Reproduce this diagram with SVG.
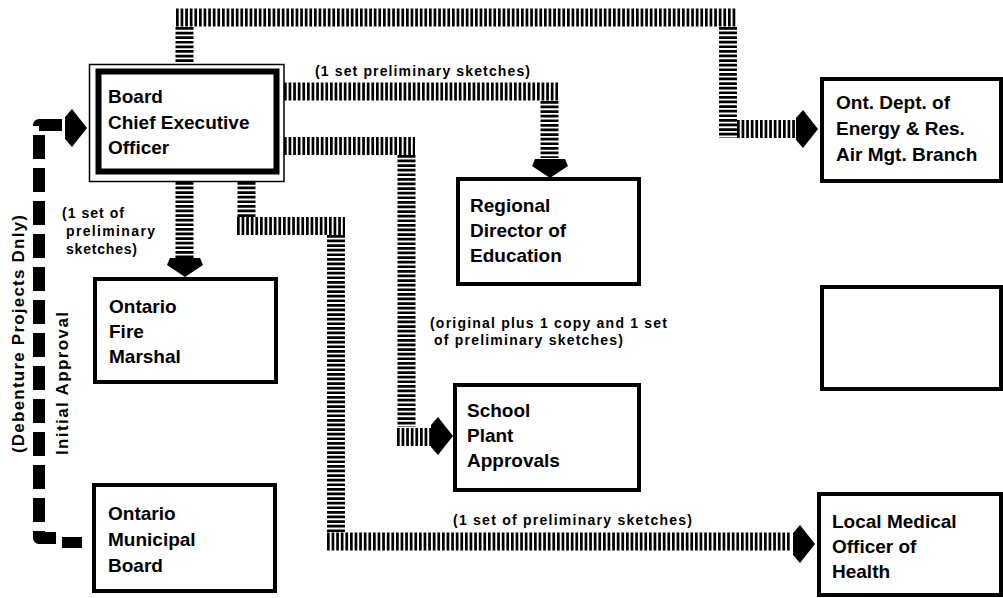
<svg xmlns="http://www.w3.org/2000/svg" width="1003" height="598" viewBox="0 0 1003 598">
<style>
.box{fill:#fff;stroke:#000;stroke-width:4}
.t{font-family:"Liberation Sans",Arial,sans-serif;font-weight:bold;font-size:19px;fill:#000}
.s{font-family:"Liberation Sans",Arial,sans-serif;font-weight:bold;font-size:14px;fill:#000}
.r{font-family:"Liberation Sans",Arial,sans-serif;font-weight:bold;font-size:17px;fill:#000}
.h{fill:none;stroke:#000;stroke-width:18;stroke-dasharray:2.7 1.9}
.d{fill:none;stroke:#000;stroke-width:12;stroke-dasharray:24 9;stroke-linejoin:round}
</style>
<defs>
<path id="ar" d="M-22,-11 L-15,-19 L0,0 L-15,19 L-22,11 Z" fill="#000"/>
<path id="ad" d="M-15,-19 L15,-19 L18,-12 L0,0 L-18,-12 Z" fill="#000"/>
</defs>
<rect width="1003" height="598" fill="#fff"/>
<g id="connectors">
<line class="h" x1="184.5" y1="62" x2="184.5" y2="27"/>
<line class="h" x1="176" y1="17.5" x2="737" y2="17.5"/>
<line class="h" x1="728" y1="27" x2="728" y2="138"/>
<line class="h" x1="737" y1="129" x2="797" y2="129"/>
<use href="#ar" x="818" y="129"/>
<line class="h" x1="284" y1="91.5" x2="558" y2="91.5"/>
<line class="h" x1="549.5" y1="101" x2="549.5" y2="158"/>
<use href="#ad" x="550" y="178"/>
<line class="h" x1="284" y1="146" x2="415" y2="146"/>
<line class="h" x1="406.5" y1="155" x2="406.5" y2="427"/>
<line class="h" x1="397" y1="437" x2="431" y2="437"/>
<use href="#ar" x="453" y="436"/>
<line class="h" x1="184.5" y1="182" x2="184.5" y2="259"/>
<use href="#ad" x="185" y="277"/>
<line class="h" x1="246.5" y1="182" x2="246.5" y2="217"/>
<line class="h" x1="237" y1="226" x2="345" y2="226"/>
<line class="h" x1="336" y1="235" x2="336" y2="532"/>
<line class="h" x1="327" y1="541.5" x2="791" y2="541.5"/>
<use href="#ar" x="815" y="544"/>
<path class="d" d="M62,125 H39 V538 H56"/>
<rect x="62" y="537" width="20" height="11" fill="#000"/>
<use href="#ar" x="87" y="128"/>
</g>
<g id="labels">
<text class="s" x="315" y="76" textLength="215" lengthAdjust="spacing">(1 set preliminary sketches)</text>
<text class="s" x="62" y="218" textLength="62" lengthAdjust="spacing">(1 set of</text>
<text class="s" x="66" y="236" textLength="89" lengthAdjust="spacing">preliminary</text>
<text class="s" x="66" y="254" textLength="71" lengthAdjust="spacing">sketches)</text>
<text class="s" x="430" y="328" textLength="237" lengthAdjust="spacing">(original plus 1 copy and 1 set</text>
<text class="s" x="434" y="345" textLength="189" lengthAdjust="spacing">of preliminary sketches)</text>
<text class="s" x="453" y="525" textLength="239" lengthAdjust="spacing">(1 set of preliminary sketches)</text>
<text class="r" transform="translate(24,453) rotate(-90)" textLength="238" lengthAdjust="spacing">(Debenture Projects Dnly)</text>
<text class="r" transform="translate(68,455) rotate(-90)" textLength="143" lengthAdjust="spacing">Initial Approval</text>
</g>
<g id="ceo">
<rect x="89.5" y="64.5" width="194.5" height="117" fill="#fff" stroke="#000" stroke-width="1.5"/>
<rect x="98.5" y="71.5" width="178" height="100" fill="#fff" stroke="#000" stroke-width="6"/>
<text class="t" x="108" y="103">Board</text>
<text class="t" x="108" y="129">Chief Executive</text>
<text class="t" x="108" y="154">Officer</text>
</g>
<g id="ont-dept">
<rect class="box" x="822" y="79" width="179" height="102"/>
<text class="t" x="836" y="109">Ont. Dept. of</text>
<text class="t" x="836" y="135">Energy &amp; Res.</text>
<text class="t" x="836" y="161">Air Mgt. Branch</text>
</g>
<g id="regional">
<rect class="box" x="458" y="179" width="181" height="105"/>
<text class="t" x="470" y="212">Regional</text>
<text class="t" x="470" y="237">Director of</text>
<text class="t" x="470" y="262">Education</text>
</g>
<g id="fire-marshal">
<rect class="box" x="95" y="279" width="181" height="103"/>
<text class="t" x="109" y="313">Ontario</text>
<text class="t" x="109" y="338">Fire</text>
<text class="t" x="109" y="363">Marshal</text>
</g>
<g id="empty-box">
<rect class="box" x="822" y="287" width="179" height="102"/>
</g>
<g id="school-plant">
<rect class="box" x="455" y="385" width="184" height="105"/>
<text class="t" x="467" y="417">School</text>
<text class="t" x="467" y="442">Plant</text>
<text class="t" x="467" y="467">Approvals</text>
</g>
<g id="municipal-board">
<rect class="box" x="94" y="485" width="181" height="106"/>
<text class="t" x="108" y="520">Ontario</text>
<text class="t" x="108" y="546">Municipal</text>
<text class="t" x="108" y="572">Board</text>
</g>
<g id="medical">
<rect class="box" x="819" y="494" width="182" height="101"/>
<text class="t" x="832" y="528">Local Medical</text>
<text class="t" x="832" y="553">Officer of</text>
<text class="t" x="832" y="578">Health</text>
</g>
</svg>
